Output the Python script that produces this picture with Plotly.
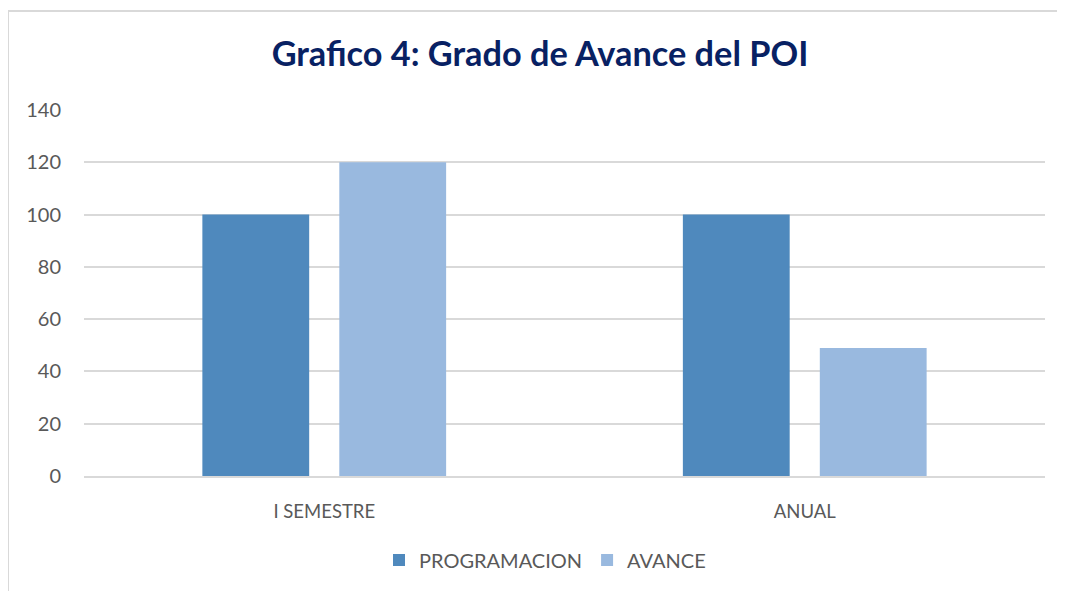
import plotly.graph_objects as go

categories = ["I SEMESTRE", "ANUAL"]
programacion = [100, 100]
avance = [120, 49]
y_ticks = [0, 20, 40, 60, 80, 100, 120, 140]

# page has an 8px body margin; work in page coordinates and convert
OFF = 8
W, H = 1065 - OFF, 591 - OFF
PL, PR, PT, PB = 84, 1045, 110, 476  # plot area in page coordinates
L, R, T, B = PL - OFF, W - (PR - OFF), PT - OFF, H - (PB - OFF)
pw, ph = W - L - R, H - T - B

def px(x):
    return (x - OFF - L) / pw

def py(y):
    return (H - B - (y - OFF)) / ph

fig = go.Figure()
fig.add_trace(go.Bar(name="PROGRAMACION", x=categories, y=programacion,
                     marker=dict(color="#4f89bd", line=dict(width=0))))
fig.add_trace(go.Bar(name="AVANCE", x=categories, y=avance,
                     marker=dict(color="#99b9df", line=dict(width=0))))

fig.update_layout(
    width=W, height=H,
    margin=dict(l=L, r=R, t=T, b=B),
    paper_bgcolor="white", plot_bgcolor="white",
    barmode="group", bargap=0.43, bargroupgap=0.22,
    font=dict(family="Lato, Open Sans, sans-serif", color="#595959", size=18),
    title=dict(text="<b>Grafico 4: Grado de Avance del POI</b>",
               x=px(540), xanchor="center", xref="paper", y=1 - (54 - OFF) / H, yanchor="middle",
               font=dict(size=34.3, color="#082163", family="Lato, Open Sans, sans-serif")),
    legend=dict(orientation="h", x=px(545), xanchor="center", y=py(560), yanchor="middle",
                font=dict(size=20, color="#595959"), itemwidth=30),
    yaxis=dict(range=[0, 140], tickvals=y_ticks, showgrid=True, gridcolor="#d9d9d9",
               gridwidth=1.5, zeroline=False, showline=False, ticks="",
               ticklabelstandoff=22, tickfont=dict(size=20, color="#595959")),
    xaxis=dict(showline=True, linecolor="#d9d9d9", linewidth=1.5, ticks="",
               ticklabelstandoff=18, tickfont=dict(size=18.5, color="#595959")),
    showlegend=True,
)

fig.add_shape(type="line", xref="paper", yref="paper",
              x0=px(8), x1=px(8), y0=py(11), y1=py(620),
              line=dict(color="#d9d9d9", width=2))
fig.add_shape(type="line", xref="paper", yref="paper",
              x0=px(8), x1=px(1090), y0=py(11), y1=py(11),
              line=dict(color="#d9d9d9", width=2))

fig.write_html("out.html")
